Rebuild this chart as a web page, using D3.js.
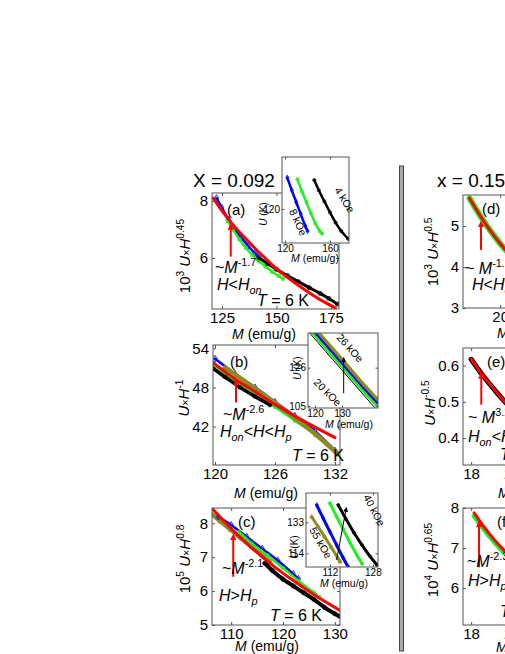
<!DOCTYPE html>
<html>
<head>
<meta charset="utf-8">
<script src="https://cdn.jsdelivr.net/npm/d3@7"></script>
<style>
  body { margin: 0; background: #fff; }
  text { font-family: "Liberation Sans", Arial, sans-serif; fill: #000; }
</style>
</head>
<body>
<script>
// ---- data: [M (emu/g), value] ----
// (a) x = 0.092, H < Hon
const aBlue  = [[122.5,8.1],[125,7.75],[128,7.35],[131,7.0],[134,6.7],[137,6.42],[140,6.17],[141.5,6.05]];
const aGreen = [[127.5,7.3],[130,7.0],[133,6.65],[136,6.35],[139,6.1],[142,5.88],[145,5.7],[148,5.52],[151,5.37],[153,5.27]];
const aBlack = [[142,6.0],[146,5.8],[150,5.6],[155,5.38],[160,5.17],[165,4.96],[170,4.76],[174,4.58],[178,4.38]];
const aFit   = [[121,8.1],[125,7.65],[130,7.17],[135,6.75],[140,6.35],[145,5.98],[150,5.62],[155,5.32],[160,5.04],[165,4.78],[170,4.54],[177,4.25]];
const aInsBlue  = [[122,138.5],[126,131],[130,124],[134,117],[138,110],[140,107]];
const aInsGreen = [[131,137.5],[135,130.5],[139,124],[143,117.5],[147,111.5],[151,107],[153,105.5]];
const aInsBlack = [[146,137],[150,131],[155,124.5],[160,118],[165,112],[170,107],[176,102.5]];

// (b) Hon < H < Hp
const bBlue  = [[120,52.4],[122,50.1],[124,48.0],[126,45.8],[128,43.6],[130,41.3],[132,38.3]];
const bOlive = [[121,51.0],[122,50.0],[124,47.8],[126,45.6],[128,43.3],[130,40.9],[132.2,37.9]];
const bBlack = [[119.8,50.9],[121,49.6],[122.5,48.0],[124,46.6],[125.5,45.3]];
const bGreen = [[120,51.3],[122,49.0],[124,47.0],[126,45.0],[128,42.9],[130,40.8],[131.5,39.0]];
const bFit   = [[119.8,51.8],[122,49.3],[124,47.35],[126,45.4],[128,43.6],[130,41.9],[132,40.3]];
const bInsBlack = [[118,145],[124,134.8],[130,124.6],[136,114.4],[142,104.2]];
const bInsGreen = [[119,145],[125,134.8],[131,124.6],[137,114.4],[143,104.8]];
const bInsBlue  = [[120,145],[126,134.8],[132,124.6],[138,114.4],[143,106.5]];
const bInsOlive = [[121.3,145],[127.3,134.8],[133.3,124.6],[139.3,114.4],[143.3,108]];

// (c) H > Hp
const cOlive = [[106,8.3],[108,8.05],[110,7.8],[112,7.55],[114,7.3],[116,7.05],[117.5,6.85]];
const cBlue  = [[107.5,8.2],[110,7.95],[113,7.6],[116,7.25],[119,6.9],[122,6.5],[123,6.36]];
const cGreen = [[111.5,7.75],[114,7.4],[117,7.05],[120,6.68],[123,6.3],[126,5.95],[127,5.82]];
const cBlack = [[116.5,6.82],[118,6.6],[120,6.35],[122,6.15],[124,5.95],[126,5.75],[128,5.52],[130,5.33],[131,5.25]];
const cFit   = [[106.3,8.44],[110,7.84],[114,7.27],[118,6.76],[122,6.31],[126,5.89],[131,5.43]];
const cInsOlive = [[105.2,136.4],[107.5,130.6],[110,124.2],[112.5,117.7],[115,111],[115.8,108.8]];
const cInsBlue  = [[107.1,143.6],[109.5,135.5],[112,127.2],[114.5,119],[117,111],[119,105]];
const cInsGreen = [[112,144.7],[114.5,136.5],[117,128.5],[119.5,120.5],[122,113],[124,107.5]];
const cInsBlack = [[115.1,143.6],[118,135],[121,126.5],[124,119],[127,112],[129.5,107]];

// (d)-(f) x = 0.15 (cut off at the right)
const dGreen = [[16.7,5.68],[17.5,5.38],[18.5,5.03],[19.5,4.72],[20.5,4.44],[22,4.1],[24,3.75]];
const dFit   = [[16.7,5.68],[17.5,5.38],[18.5,5.03],[19.5,4.72],[20.5,4.44],[22,4.1],[24,3.75]];
const eBlack = [[18,0.617],[19,0.578],[20,0.543],[21,0.51],[22,0.48]];
const eGreen = [[20.5,0.528],[21.5,0.497],[22.5,0.47]];
const eFit   = [[18,0.617],[19,0.578],[20,0.543],[21,0.51],[22,0.48]];
const fGreen = [[18.3,7.8],[19.3,7.46],[20.3,7.15],[21.3,6.88],[22.5,6.6]];
const fFit   = [[18.3,7.88],[19.3,7.52],[20.3,7.2],[21.3,6.93],[22.5,6.65]];

// tick values
const aTicksX = [125, 150, 175], aTicksY = [6, 8];
const aInsTicksX = [120, 160], aInsTicksY = [120];
const bTicksX = [120, 126, 132], bTicksY = [42, 48, 54];
const bInsTicksX = [120, 130], bInsTicksY = [105, 126];
const cTicksX = [110, 120, 130], cTicksY = [5, 6, 7, 8];
const cInsTicksX = [112, 128], cInsTicksY = [114, 133];
const dTicksX = [20, 25], dTicksY = [3, 4, 5];
const eTicksX = [18, 22], eTicksY = [0.4, 0.5, 0.6];
const fTicksX = [18, 22], fTicksY = [6, 7, 8];

const RED = "#ff0000", BLUE = "#0000ff", GREEN = "#22ee22", OLIVE = "#8c8c1e", BLACK = "#000";

const svg = d3.select("body").append("svg")
    .attr("width", 505)
    .attr("height", 654);

const defs = svg.append("defs");
defs.append("marker")
    .attr("id", "redHead")
    .attr("viewBox", "0 0 10 10")
    .attr("refX", 5).attr("refY", 5)
    .attr("markerWidth", 3.2).attr("markerHeight", 4.5)
    .attr("orient", "auto")
    .append("path").attr("d", "M0,0L10,5L0,10z").attr("fill", RED);
defs.append("marker")
    .attr("id", "blackHead")
    .attr("viewBox", "0 0 10 10")
    .attr("refX", 5).attr("refY", 5)
    .attr("markerWidth", 5).attr("markerHeight", 6)
    .attr("orient", "auto")
    .append("path").attr("d", "M0,0L10,5L0,10z").attr("fill", BLACK);

let clipN = 0;
const fmt = d3.format("~g");

function panel(box, xDom, yDom, xTicks, yTicks, fs, inset) {
    const x = d3.scaleLinear().domain(xDom).range([box.x, box.x + box.w]);
    const y = d3.scaleLinear().domain(yDom).range([box.y + box.h, box.y]);
    const g = svg.append("g");
    if (inset) {
        g.append("rect")
            .attr("x", box.x).attr("y", box.y)
            .attr("width", box.w).attr("height", box.h)
            .attr("fill", "#fff");
    }
    const id = "clip" + (clipN++);
    defs.append("clipPath").attr("id", id)
        .append("rect")
        .attr("x", box.x).attr("y", box.y)
        .attr("width", box.w).attr("height", box.h);
    const plot = g.append("g").attr("clip-path", `url(#${id})`);

    const tl = inset ? 2.5 : 3;
    const axes = g.append("g");
    axes.append("g")
        .attr("transform", `translate(0,${box.y + box.h})`)
        .call(d3.axisBottom(x).tickValues(xTicks).tickFormat(fmt)
            .tickSizeInner(-tl).tickSizeOuter(0).tickPadding(inset ? 2 : 3));
    axes.append("g")
        .attr("transform", `translate(${box.x},0)`)
        .call(d3.axisLeft(y).tickValues(yTicks).tickFormat(fmt)
            .tickSizeInner(-tl).tickSizeOuter(0).tickPadding(inset ? 2 : 4));
    axes.append("g")
        .attr("transform", `translate(0,${box.y})`)
        .call(d3.axisTop(x).tickValues(xTicks).tickSizeInner(-tl).tickSizeOuter(0).tickFormat(""));
    axes.append("g")
        .attr("transform", `translate(${box.x + box.w},0)`)
        .call(d3.axisRight(y).tickValues(yTicks).tickSizeInner(-tl).tickSizeOuter(0).tickFormat(""));
    axes.selectAll(".domain").remove();
    axes.selectAll(".tick line").attr("stroke", "#555");
    axes.selectAll("text")
        .attr("font-size", fs)
        .attr("font-family", "'Liberation Sans', Arial, sans-serif");

    const frameG = g.append("g");
    return {x, y, g, plot, box, frameG};
}

function finish(p) {
    p.frameG.raise().append("rect")
        .attr("x", p.box.x).attr("y", p.box.y)
        .attr("width", p.box.w).attr("height", p.box.h)
        .attr("fill", "none")
        .attr("stroke", "#555")
        .attr("stroke-width", 1);
}

function series(p, data, color, width, sym, size) {
    const line = d3.line()
        .curve(d3.curveMonotoneX)
        .x(d => p.x(d[0]))
        .y(d => p.y(d[1]));
    p.plot.append("path")
        .datum(data)
        .attr("d", line)
        .attr("fill", "none")
        .attr("stroke", color)
        .attr("stroke-width", width)
        .attr("stroke-linecap", "round");
    if (sym) {
        p.plot.append("g").selectAll("path")
            .data(data)
            .join("path")
            .attr("transform", d => `translate(${p.x(d[0])},${p.y(d[1])})`)
            .attr("d", d3.symbol(sym, size || 14))
            .attr("fill", "none")
            .attr("stroke", color)
            .attr("stroke-width", 0.8);
    }
}

function arrow(p, xv, y0, y1, color, head, w) {
    p.g.append("line")
        .attr("x1", p.x(xv)).attr("x2", p.x(xv))
        .attr("y1", p.y(y0)).attr("y2", p.y(y1))
        .attr("stroke", color)
        .attr("stroke-width", w)
        .attr("marker-end", `url(#${head})`);
}

// rich text: parts = [[string, "i sup sub sm"], ...]
function rich(parent, x, y, parts, size, opts) {
    opts = opts || {};
    const t = parent.append("text")
        .attr("font-size", size)
        .attr("text-anchor", opts.anchor || "start");
    if (opts.rotate !== undefined) {
        t.attr("transform", `translate(${x},${y}) rotate(${opts.rotate})`);
    } else {
        t.attr("x", x).attr("y", y);
    }
    let shift = 0;
    parts.forEach(([s, k]) => {
        const f = (k || "").split(" ");
        const ts = t.append("tspan").text(s);
        let target = 0, fsz = size;
        if (f.includes("sup")) { target = -0.42 * size; fsz = 0.68 * size; }
        if (f.includes("sub")) { target = 0.28 * size; fsz = 0.68 * size; }
        if (f.includes("sm")) fsz = 0.72 * size;
        if (f.includes("i")) ts.attr("font-style", "italic");
        ts.attr("font-size", fsz).attr("dy", target - shift);
        shift = target;
    });
    return t;
}

const MLAB = [["M", "i"], [" (emu/g)"]];

// ================= left column: X = 0.092 =================
rich(svg, 193, 187, [["X = 0.092"]], 19);

// ---- (a)
const pa = panel({x: 212, y: 193, w: 127, h: 116}, [120.4, 178.7], [4.21, 8.28], aTicksX, aTicksY, 15);
series(pa, aBlue, BLUE, 2.5, d3.symbolDiamond, 14);
series(pa, aGreen, GREEN, 2.5, d3.symbolSquare, 10);
series(pa, aBlack, BLACK, 3, d3.symbolCircle, 14);
series(pa, aFit, RED, 3);
arrow(pa, 129, 6.05, 7.1, RED, "redHead", 2);
finish(pa);
rich(svg, 227, 215, [["(a)"]], 15);
rich(svg, 215, 273, [["~"], ["M", "i"], ["-1.7", "sup"]], 16);
rich(svg, 217, 290, [["H", "i"], ["<"], ["H", "i"], ["on", "sub i"]], 16);
rich(svg, 257, 306, [["T", "i"], [" = 6 K"]], 16);
rich(svg, 264, 339, MLAB, 14, {anchor: "middle"});
rich(svg, 190, 256, [["10"], ["3", "sup"], [" "], ["U", "i"], ["×", "sm"], ["H", "i"], ["0.45", "sup"]], 15, {anchor: "middle", rotate: -90});

// inset (a)
const ia = panel({x: 282, y: 157, w: 67, h: 86}, [117.3, 176.9], [100, 150.6], aInsTicksX, aInsTicksY, 10, true);
series(ia, aInsBlue, BLUE, 2.5, d3.symbolDiamond, 8);
series(ia, aInsGreen, GREEN, 2.5, d3.symbolSquare, 7);
series(ia, aInsBlack, BLACK, 2.5, d3.symbolCircle, 8);
finish(ia);
rich(svg, 267, 214, [["U", "i"], [" (K)"]], 10, {anchor: "middle", rotate: -90});
rich(svg, 315, 262, MLAB, 10.5, {anchor: "middle"});
rich(svg, 289, 211, [["8 kOe"]], 10.5, {rotate: 66});
rich(svg, 334, 190, [["4 kOe"]], 10.5, {rotate: 58});

// ---- (b)
const pb = panel({x: 213, y: 345, w: 127, h: 120}, [119.8, 132.5], [36.1, 54.5], bTicksX, bTicksY, 15);
series(pb, bBlue, BLUE, 2.5, d3.symbolDiamond, 14);
series(pb, bGreen, GREEN, 2.5, d3.symbolSquare, 10);
series(pb, bOlive, OLIVE, 4.5, d3.symbolDiamond, 14);
series(pb, bBlack, BLACK, 3.5, d3.symbolCircle, 12);
series(pb, bFit, RED, 3);
arrow(pb, 122.1, 45.7, 48.8, RED, "redHead", 2);
finish(pb);
rich(svg, 230, 367, [["(b)"]], 15);
rich(svg, 223, 420, [["~"], ["M", "i"], ["-2.6", "sup"]], 16);
rich(svg, 220, 437, [["H", "i"], ["on", "sub i"], ["<"], ["H", "i"], ["<"], ["H", "i"], ["p", "sub i"]], 16);
rich(svg, 292, 461, [["T", "i"], [" = 6 K"]], 16);
rich(svg, 266, 498, MLAB, 14, {anchor: "middle"});
rich(svg, 189, 398, [["U", "i"], ["×", "sm"], ["H", "i"], ["-1", "sup"]], 15, {anchor: "middle", rotate: -90});

// inset (b)
const ib = panel({x: 308, y: 333, w: 70, h: 75}, [117.4, 143.3], [103.9, 145], bInsTicksX, bInsTicksY, 10, true);
series(ib, bInsOlive, OLIVE, 4, d3.symbolDiamond, 7);
series(ib, bInsBlue, BLUE, 2.5);
series(ib, bInsGreen, GREEN, 2.5);
series(ib, bInsBlack, BLACK, 1);
arrow(ib, 130.6, 112, 130.5, BLACK, "blackHead", 1);
finish(ib);
rich(svg, 301, 368, [["U", "i"], [" (K)"]], 10, {anchor: "middle", rotate: -90});
rich(svg, 349, 428, MLAB, 10.5, {anchor: "middle"});
rich(svg, 336, 338, [["26 kOe"]], 10.5, {rotate: 48});
rich(svg, 313, 383, [["20 kOe"]], 10.5, {rotate: 45});

// ---- (c)
const pc = panel({x: 212, y: 508, w: 128, h: 117}, [106.3, 131.0], [5, 8.45], cTicksX, cTicksY, 15);
series(pc, cOlive, OLIVE, 4.5, d3.symbolTriangle, 12);
series(pc, cBlue, BLUE, 2.5, d3.symbolDiamond, 14);
series(pc, cGreen, GREEN, 2.5, d3.symbolSquare, 10);
series(pc, cBlack, BLACK, 4, d3.symbolCircle, 14);
series(pc, cFit, RED, 3);
arrow(pc, 110.4, 6.42, 7.6, RED, "redHead", 2);
finish(pc);
rich(svg, 238, 527, [["(c)"]], 15);
rich(svg, 222, 574, [["~"], ["M", "i"], ["-2.1", "sup"]], 16);
rich(svg, 219, 601, [["H", "i"], [">"], ["H", "i"], ["p", "sub i"]], 16);
rich(svg, 270, 621, [["T", "i"], [" = 6 K"]], 16);
rich(svg, 267, 651, MLAB, 14, {anchor: "middle"});
rich(svg, 190, 559, [["10"], ["5", "sup"], [" "], ["U", "i"], ["×", "sm"], ["H", "i"], ["0.8", "sup"]], 15, {anchor: "middle", rotate: -90});

// inset (c)
const ic = panel({x: 306, y: 493, w: 72, h: 74}, [103.1, 129.9], [105.6, 151], cInsTicksX, cInsTicksY, 10, true);
series(ic, cInsOlive, OLIVE, 3, d3.symbolTriangle, 7);
series(ic, cInsBlue, BLUE, 3, d3.symbolDiamond, 7);
series(ic, cInsGreen, GREEN, 3, d3.symbolSquare, 6);
series(ic, cInsBlack, BLACK, 3, d3.symbolCircle, 7);
ic.g.append("line")
    .attr("x1", ic.x(114.5)).attr("y1", ic.y(110))
    .attr("x2", ic.x(118)).attr("y2", ic.y(141))
    .attr("stroke", BLACK).attr("stroke-width", 1)
    .attr("marker-end", "url(#blackHead)");
finish(ic);
rich(svg, 298, 547, [["U", "i"], [" (K)"]], 10, {anchor: "middle", rotate: -90});
rich(svg, 344, 587, MLAB, 10.5, {anchor: "middle"});
rich(svg, 309, 530, [["55 kOe"]], 10.5, {rotate: 60});
rich(svg, 363, 497, [["40 kOe"]], 10.5, {rotate: 62});

// separator
svg.append("rect")
    .attr("x", 399.5).attr("y", 166)
    .attr("width", 4).attr("height", 485)
    .attr("fill", "#aaa")
    .attr("stroke", "#444")
    .attr("stroke-width", 1);

// ================= right column: x = 0.15 =================
rich(svg, 437, 187, [["x = 0.15"]], 19);

// ---- (d)
const pd = panel({x: 463, y: 195, w: 130, h: 113}, [16, 30], [3, 5.76], dTicksX, dTicksY, 15);
series(pd, dGreen, GREEN, 6);
series(pd, dFit, RED, 3);
arrow(pd, 17.94, 4.42, 5.05, RED, "redHead", 2);
finish(pd);
rich(svg, 482, 214, [["(d)"]], 15);
rich(svg, 465, 274, [["~ "], ["M", "i"], ["-1.9", "sup"]], 16);
rich(svg, 472, 290, [["H", "i"], ["<"], ["H", "i"], ["on", "sub i"]], 16);
rich(svg, 497, 338, MLAB, 14, {anchor: "start"});
rich(svg, 438, 252, [["10"], ["3", "sup"], [" "], ["U", "i"], ["×", "sm"], ["H", "i"], ["0.5", "sup"]], 15, {anchor: "middle", rotate: -90});

// ---- (e)
const pe = panel({x: 463, y: 348, w: 130, h: 117}, [17.2, 30], [0.326, 0.648], eTicksX, eTicksY, 15);
series(pe, eGreen, GREEN, 4);
series(pe, eBlack, BLACK, 5, d3.symbolCircle, 12);
series(pe, eFit, RED, 3);
arrow(pe, 19.0, 0.492, 0.572, RED, "redHead", 2);
finish(pe);
rich(svg, 487, 367, [["(e)"]], 15);
rich(svg, 468, 423, [["~ "], ["M", "i"], ["3.2", "sup"]], 16);
rich(svg, 468, 442, [["H", "i"], ["on", "sub i"], ["<"], ["H", "i"], ["<"], ["H", "i"], ["p", "sub i"]], 16);
rich(svg, 500, 460, [["T", "i"], [" = 6 K"]], 16);
rich(svg, 498, 498, MLAB, 14, {anchor: "start"});
rich(svg, 435, 403, [["U", "i"], ["×", "sm"], ["H", "i"], ["-0.5", "sup"]], 15, {anchor: "middle", rotate: -90});

// ---- (f)
const pf = panel({x: 463, y: 508, w: 130, h: 117}, [17.2, 30], [5.08, 8], fTicksX, fTicksY, 15);
series(pf, fGreen, GREEN, 5);
series(pf, fFit, RED, 3);
arrow(pf, 18.78, 6.52, 7.6, RED, "redHead", 2);
finish(pf);
rich(svg, 497, 527, [["(f)"]], 15);
rich(svg, 467, 567, [["~"], ["M", "i"], ["-2.3", "sup"]], 16);
rich(svg, 468, 586, [["H", "i"], [">"], ["H", "i"], ["p", "sub i"]], 16);
rich(svg, 500, 617, [["T", "i"], [" = 6 K"]], 16);
rich(svg, 496, 652, MLAB, 14, {anchor: "start"});
rich(svg, 438, 560, [["10"], ["4", "sup"], [" "], ["U", "i"], ["×", "sm"], ["H", "i"], ["0.65", "sup"]], 15, {anchor: "middle", rotate: -90});
</script>
</body>
</html>
